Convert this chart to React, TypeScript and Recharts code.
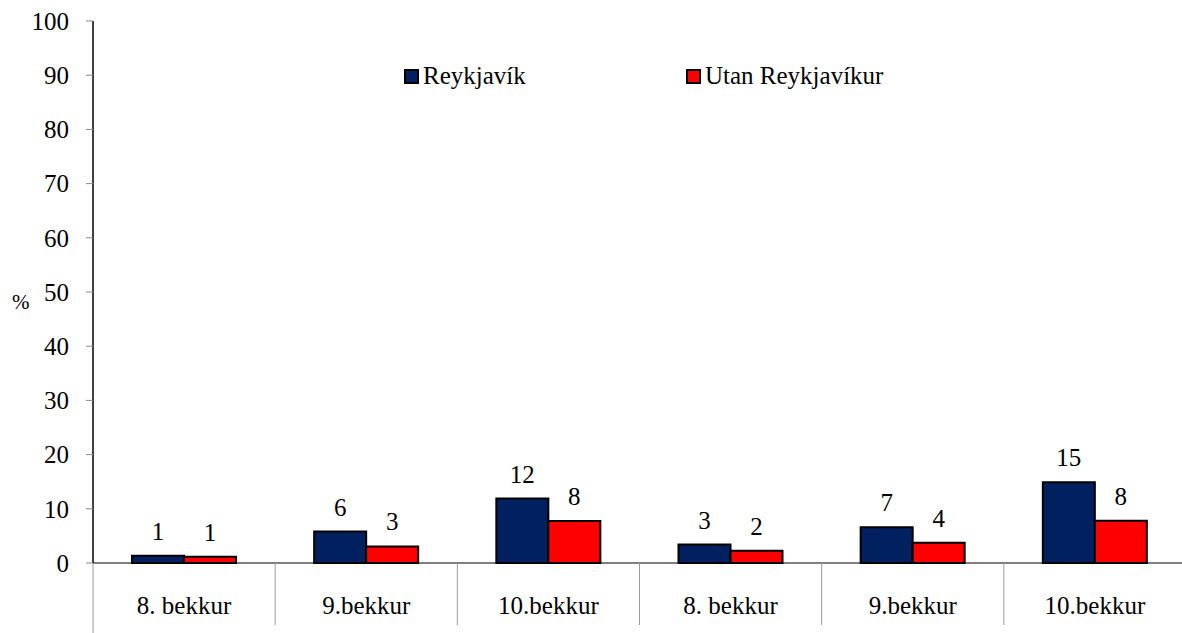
import React from 'react';
import { BarChart, Bar, XAxis, YAxis, LabelList, Legend } from 'recharts';

const categories = ['8. bekkur', '9.bekkur', '10.bekkur', '8. bekkur', '9.bekkur', '10.bekkur'];
const reykjavik = [1.35, 5.8, 11.9, 3.4, 6.6, 14.9];
const utan = [1.16, 3.06, 7.75, 2.27, 3.75, 7.8];
const yTicks = [0, 10, 20, 30, 40, 50, 60, 70, 80, 90, 100];
const seriesNames = ['Reykjavík', 'Utan Reykjavíkur'];
const seriesColors = ['#002060', '#FF0000'];

const data = categories.map((c, i) => ({ cat: c, r: reykjavik[i], u: utan[i] }));

const FONT = "'Times New Roman', Tinos, 'Liberation Serif', 'DejaVu Serif', 'Noto Serif', serif";
const CHART_W = 1190;
const CHART_H = 633;
const Y_W = 93;
const M_RIGHT = 4;
const BAND = (CHART_W - Y_W - M_RIGHT) / categories.length;

const XTick = (props: any) => {
  const { x, y, payload, index } = props;
  const left = x - BAND / 2;
  const right = x + BAND / 2;
  return (
    <g>
      <line x1={left} x2={left} y1={y} y2={index === 0 ? y + 72 : y + 62} stroke="#9a9a9a" strokeWidth={1} />
      {index === categories.length - 1 && (
        <line x1={right} x2={right} y1={y} y2={y + 62} stroke="#9a9a9a" strokeWidth={1} />
      )}
      <text x={x} y={y + 42} textAnchor="middle" dominantBaseline="central" style={{ fontFamily: FONT }} fontSize={25} fill="#000">
        {payload.value}
      </text>
    </g>
  );
};

const LegendContent = () => (
  <div style={{ display: 'flex', fontFamily: FONT, fontSize: 25, lineHeight: '28px', color: '#000' }}>
    {seriesNames.map((n, i) => (
      <div key={n} style={{ display: 'flex', alignItems: 'center', width: 282 }}>
        <span
          style={{
            display: 'inline-block',
            width: 11,
            height: 11,
            background: seriesColors[i],
            border: '2px solid #000',
            marginRight: 4,
          }}
        />
        <span>{n}</span>
      </div>
    ))}
  </div>
);

const fmt = (v: any) => Math.round(Number(v));
const textStyle = { fontFamily: FONT, fontSize: 25, fill: '#000' };

export default function App() {
  return (
    <div style={{ position: 'absolute', left: 0, top: 0, width: 1182, height: 633, overflow: 'hidden', background: '#fff', fontFamily: FONT }}>
      <BarChart
        width={CHART_W}
        height={CHART_H}
        data={data}
        margin={{ top: 21, right: M_RIGHT, bottom: 0, left: 0 }}
        barGap={0}
        barCategoryGap={39}
        style={{ fontFamily: FONT }}
      >
        <XAxis
          dataKey="cat"
          height={70}
          tickLine={false}
          tickSize={0}
          tickMargin={0}
          axisLine={{ stroke: '#000', strokeWidth: 1.2 }}
          tick={<XTick />}
          interval={0}
        />
        <YAxis
          width={Y_W}
          domain={[0, 100]}
          ticks={yTicks}
          interval={0}
          tickSize={7}
          tickMargin={17}
          axisLine={{ stroke: '#000', strokeWidth: 1.5 }}
          tickLine={{ stroke: '#8a8a8a', strokeWidth: 1 }}
          tick={{ ...textStyle, style: { fontFamily: FONT } }}
          label={{ value: '%', position: 'insideLeft', offset: 12, dy: 10, fontSize: 21, fill: '#000', style: { fontFamily: FONT } }}
        />
        <Legend
          verticalAlign="middle"
          align="center"
          layout="horizontal"
          content={<LegendContent />}
          wrapperStyle={{ position: 'absolute', left: 404, top: 62, width: 600 }}
        />
        <Bar dataKey="r" name={seriesNames[0]} fill={seriesColors[0]} stroke="#000" strokeWidth={2} barSize={52} isAnimationActive={false}>
          <LabelList dataKey="r" position="top" offset={16} formatter={fmt} style={textStyle} />
        </Bar>
        <Bar dataKey="u" name={seriesNames[1]} fill={seriesColors[1]} stroke="#000" strokeWidth={2} barSize={52} isAnimationActive={false}>
          <LabelList dataKey="u" position="top" offset={16} formatter={fmt} style={textStyle} />
        </Bar>
      </BarChart>
    </div>
  );
}
